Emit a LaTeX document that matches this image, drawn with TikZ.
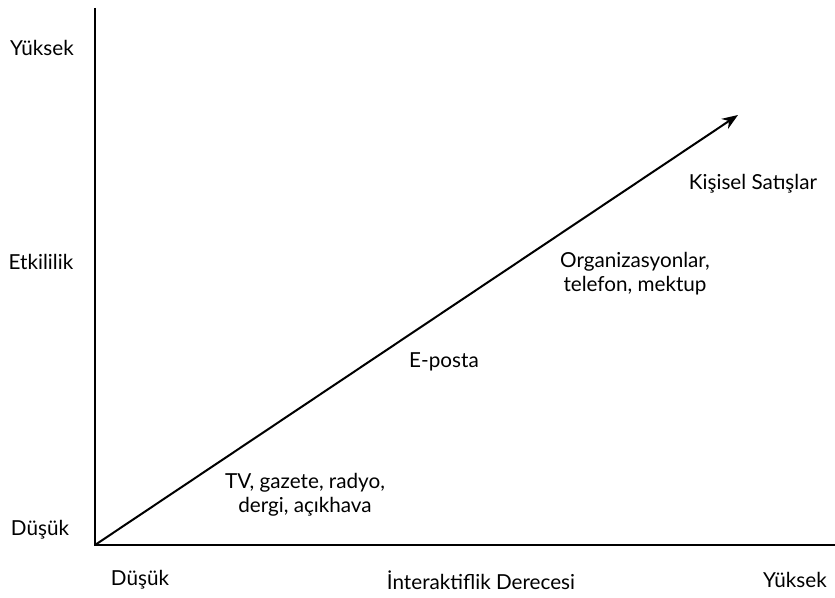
\documentclass[tikz,border=0pt]{standalone}
\usepackage{fontspec}
\setmainfont{Lato}
\usetikzlibrary{arrows.meta}
\begin{document}
\begin{tikzpicture}[x=0.75pt,y=-0.75pt,
  lbl/.style={font=\fontsize{15.5}{18}\selectfont, inner sep=0pt, align=center},
  axis/.style={line width=1.9pt},
  trend/.style={line width=1.5pt, -{Stealth[length=12pt,width=9pt]}}]
\useasboundingbox (0,0) rectangle (835,598);
\coordinate (O) at (95,545);
\coordinate (T) at (95,8);
\coordinate (R) at (835,545);
\coordinate (E) at (738,115);
\draw[axis] (T) -- (O) -- (R);
\draw[trend] (O) -- (E);
\node[lbl] (yh) at (42,48) {Yüksek};
\node[lbl] (ye) at (41,262) {Etkililik};
\node[lbl] (yl) at (40,530) {Düşük};
\node[lbl] (xl) at (140,580) {Düşük};
\node[lbl] (xm) at (481,580) {İnteraktiflik Derecesi};
\node[lbl] (xh) at (795,580) {Yüksek};
\node[lbl] (tv) at (305,495) {TV, gazete, radyo,\\dergi, açıkhava};
\node[lbl] (ep) at (444,362) {E-posta};
\node[lbl] (org) at (635,274) {Organizasyonlar,\\telefon, mektup};
\node[lbl] (ks) at (753,184) {Kişisel Satışlar};
\end{tikzpicture}
\end{document}
